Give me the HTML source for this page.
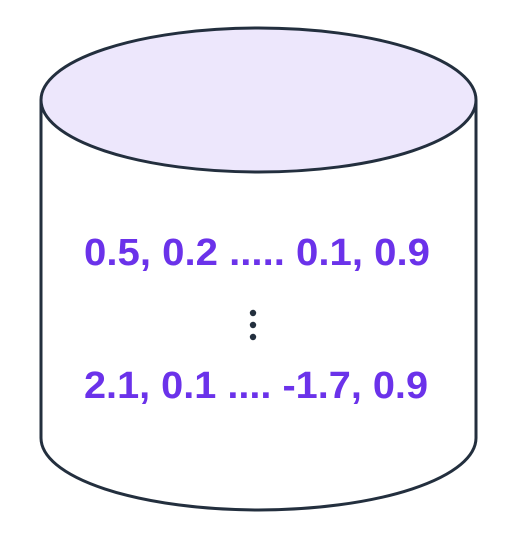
<!DOCTYPE html>
<html><head><meta charset="utf-8"><style>html,body{margin:0;padding:0;background:#fff}svg{display:block}</style></head>
<body>
<svg width="517" height="542" viewBox="0 0 517 542">
  <path d="M41,100 L41,438 A217.5,72 0 0 0 476,438 L476,100" fill="#fff" stroke="#232f3e" stroke-width="3"/>
  <ellipse cx="258.5" cy="100" rx="217.5" ry="72" fill="#ede7fc" stroke="#232f3e" stroke-width="3"/>
  <text x="84" y="265" textLength="346" lengthAdjust="spacingAndGlyphs" font-family="Liberation Sans, sans-serif" font-weight="bold" font-size="38" fill="#6b32ea">0.5, 0.2 ..... 0.1, 0.9</text>
  <g fill="#232f3e">
    <circle cx="253" cy="313" r="3.2"/><circle cx="253" cy="325" r="3.2"/><circle cx="253" cy="337" r="3.2"/>
  </g>
  <text x="84" y="398" textLength="344" lengthAdjust="spacingAndGlyphs" font-family="Liberation Sans, sans-serif" font-weight="bold" font-size="38" fill="#6b32ea">2.1, 0.1 .... -1.7, 0.9</text>
</svg>
</body></html>
